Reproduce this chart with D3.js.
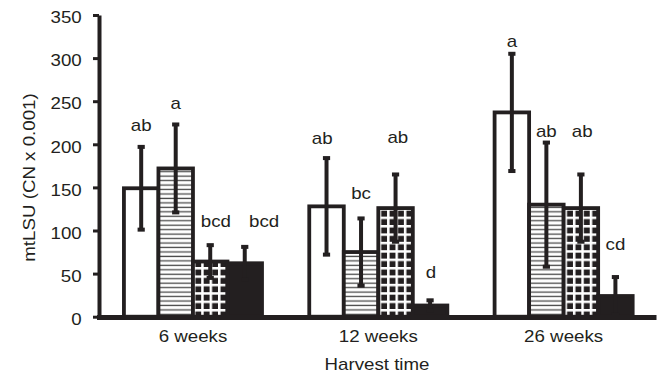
<!DOCTYPE html>
<html>
<head>
<meta charset="utf-8">
<script src="https://cdn.jsdelivr.net/npm/d3@7"></script>
<style>
  html, body { margin: 0; padding: 0; background: #fff; }
  svg { display: block; }
  text { font-family: "Liberation Sans", Arial, Helvetica, sans-serif; font-size: 16px; fill: #231f20; }
</style>
</head>
<body>
<svg id="chart" width="661" height="374"></svg>
<script>
// Harvest times on the x axis
const categories = ["6 weeks", "12 weeks", "26 weeks"];
// Fill style of the four treatments inside each harvest group
const fills = ["open", "lined", "grid", "solid"];
// Group means (CN x 0.001), one row per harvest time
const meanValues = [
  [149, 172, 64, 62],
  [128, 75, 126, 13],
  [237, 130, 126, 24]
];
// Error bar half-widths
const errorValues = [
  [48, 51, 19, 19],
  [56, 39, 39, 6],
  [68, 72, 39, 22]
];
// Significance letters
const letters = [
  ["ab", "a", "bcd", "bcd"],
  ["ab", "bc", "ab", "d"],
  ["a", "ab", "ab", "cd"]
];
// Level (on the value scale) where each letter sits
const letterLevels = [
  [215, 241, 104, 104],
  [200, 136, 201, 44.5],
  [313, 209, 209, 77]
];
const yTicks = [0, 50, 100, 150, 200, 250, 300, 350];

// ---- layout ----
const ink = "#231f20";
const stretch = "scale(1.17,1)";            // wide lettering
const letterNudge = [[0, 0, 5.7, 19.4], [-4.3, 0, 2.3, 1], [0, 0, 1.3, 0]];

const svg = d3.select("#chart");
const y = d3.scaleLinear().domain([0, 350]).range([316.7, 15]);
const x0 = d3.scaleBand().domain(categories).range([100.3, 656.3])
  .paddingInner(0.255).paddingOuter(0.1275);
const x1 = d3.scaleBand().domain(d3.range(fills.length)).range([0, x0.bandwidth()]);

const defs = svg.append("defs");

// one pattern per patterned bar so the texture lines up with the bar edges
function fillFor(gi, bi) {
  const kind = fills[bi];
  if (kind === "open") return "#fff";
  if (kind === "solid") return ink;
  const left = x0(categories[gi]) + x1(bi);
  const id = `tex-${gi}-${bi}`;
  if (kind === "lined") {
    const p = defs.append("pattern").attr("id", id)
      .attr("patternUnits", "userSpaceOnUse")
      .attr("width", 40).attr("height", 4.46)
      .attr("patternTransform", `translate(${left},${y(0)})`);
    p.append("rect").attr("width", 40).attr("height", 4.46).attr("fill", "#fff");
    p.append("rect").attr("y", 1.5).attr("width", 40).attr("height", 1.3).attr("fill", "#4a4a4a");
  } else {
    const p = defs.append("pattern").attr("id", id)
      .attr("patternUnits", "userSpaceOnUse")
      .attr("width", 8.4).attr("height", 8.4)
      .attr("patternTransform", `translate(${left + 1.9},${y(0) - 16.1})`);
    p.append("rect").attr("width", 8.4).attr("height", 8.4).attr("fill", "#fff");
    p.append("rect").attr("x", 2.5).attr("y", 2.5).attr("width", 5.9).attr("height", 5.9).attr("fill", ink);
  }
  return `url(#${id})`;
}

// ---- bars ----
const groups = svg.append("g").selectAll("g")
  .data(categories)
  .join("g")
  .attr("transform", d => `translate(${x0(d)},0)`);

groups.each(function (cat, gi) {
  const g = d3.select(this);
  meanValues[gi].forEach((m, bi) => {
    g.append("rect")
      .attr("x", x1(bi))
      .attr("y", y(m))
      .attr("width", x1.bandwidth())
      .attr("height", y(0) - y(m))
      .attr("fill", fillFor(gi, bi))
      .attr("stroke", ink)
      .attr("stroke-width", 3.8);
  });
});

// ---- error bars ----
groups.each(function (cat, gi) {
  const g = d3.select(this);
  meanValues[gi].forEach((m, bi) => {
    const e = errorValues[gi][bi];
    const cx = x1(bi) + x1.bandwidth() / 2;
    g.append("line")
      .attr("x1", cx).attr("x2", cx)
      .attr("y1", y(m + e)).attr("y2", y(m - e))
      .attr("stroke", ink).attr("stroke-width", 4);
    [m + e, m - e].forEach(v => {
      g.append("rect")
        .attr("x", cx - 3.6).attr("y", y(v) - 2)
        .attr("width", 7.2).attr("height", 4)
        .attr("fill", ink);
    });
  });
});

// ---- letters ----
groups.each(function (cat, gi) {
  const g = d3.select(this);
  letters[gi].forEach((t, bi) => {
    const cx = x1(bi) + x1.bandwidth() / 2 + letterNudge[gi][bi];
    g.append("text")
      .attr("text-anchor", "middle")
      .attr("transform", `translate(${cx},${y(letterLevels[gi][bi])}) ${stretch}`)
      .text(t);
  });
});

// ---- axes ----
const yAxis = svg.append("g")
  .attr("transform", "translate(99,0)")
  .call(d3.axisLeft(y).tickValues(yTicks).tickSize(6).tickSizeOuter(0));
yAxis.select(".domain").attr("stroke", ink).attr("stroke-width", 4);
yAxis.selectAll(".tick line").attr("stroke", ink).attr("stroke-width", 3);
yAxis.selectAll(".tick text")
  .attr("x", null).attr("dy", null)
  .attr("text-anchor", "end")
  .attr("font-size", null).attr("font-family", null)
  .attr("transform", `translate(-17.3,7.7) ${stretch}`);

// baseline
svg.append("path")
  .attr("d", d3.line()([[97, 317.5], [656.5, 317.5]]))
  .attr("stroke", ink).attr("stroke-width", 5);

const xAxis = svg.append("g")
  .attr("transform", "translate(0,317.5)")
  .call(d3.axisBottom(x0).tickSize(0));
xAxis.select(".domain").remove();
xAxis.selectAll(".tick text")
  .attr("y", null).attr("dy", null)
  .attr("font-size", null).attr("font-family", null)
  .attr("transform", `translate(0,24) ${stretch}`);

// axis titles
svg.append("text")
  .attr("text-anchor", "middle")
  .attr("transform", `translate(377,369.5) ${stretch}`)
  .text("Harvest time");

svg.append("text")
  .attr("text-anchor", "middle")
  .attr("transform", `translate(35,177.5) rotate(-90) ${stretch}`)
  .text("mtLSU (CN x 0.001)");
</script>
</body>
</html>
